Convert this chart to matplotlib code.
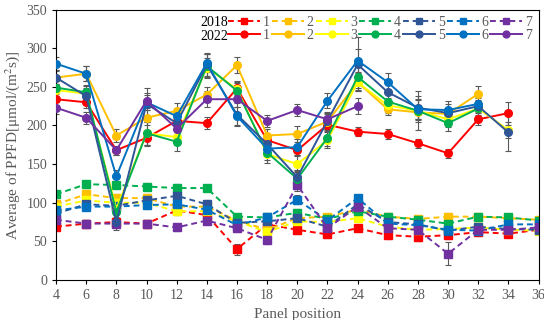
import numpy as np
import matplotlib.pyplot as plt

# 数据
x_pos = np.arange(4, 37, 2)
names = ['1', '2', '3', '4', '5', '6', '7']
colors = ['#FF0000', '#FFC000', '#FFFF00', '#00B050', '#2F5597', '#0070C0', '#7030A0']

# 2018 (dashed, squares)
y18_1 = [69, 73, 75, 73, 90, 84, 40, 72, 65, 59, 67, 58, 56, 58, 62, 60, 65]
y18_2 = [98, 111, 106, 106, 95, 95, 77, 65, 80, 82, 91, 82, 79, 82, 82, 80, 78]
y18_3 = [95, 103, 100, 100, 89, 89, 76, 62, 76, 75, 80, 69, 65, 66, 68, 65, 64]
y18_4 = [111, 124, 123, 121, 119, 119, 82, 81, 87, 79, 89, 82, 78, 73, 82, 81, 77]
y18_5 = [86, 98, 96, 103, 109, 98, 74, 76, 80, 69, 98, 75, 72, 64, 69, 66, 65]
y18_6 = [90, 95, 95, 97, 98, 91, 71, 81, 104, 77, 106, 73, 71, 65, 64, 72, 72]
y18_7 = [78, 73, 73, 73, 68, 77, 67, 52, 123, 67, 95, 67, 65, 34, 65, 65, 68]
e18_1 = [4, 5, 5, 5, 6, 5, 7, 4, 5, 5, 4, 5, 6, 5, 5, 4, 4]
e18_2 = [5, 5, 5, 5, 5, 5, 4, 4, 5, 4, 4, 5, 4, 5, 4, 4, 4]
e18_3 = [4, 5, 5, 5, 5, 5, 4, 4, 4, 4, 4, 4, 4, 4, 4, 4, 4]
e18_4 = [4, 4, 4, 5, 5, 4, 4, 4, 5, 4, 4, 4, 4, 5, 4, 4, 4]
e18_5 = [5, 5, 5, 5, 6, 6, 5, 4, 6, 4, 5, 4, 4, 4, 4, 4, 4]
e18_6 = [5, 5, 5, 5, 5, 5, 4, 5, 6, 4, 4, 4, 4, 4, 4, 4, 4]
e18_7 = [4, 5, 5, 5, 5, 5, 5, 5, 8, 5, 5, 5, 5, 15, 5, 4, 5]

# 2022 (solid, circles)
y22_1 = [234, 230, 168, 184, 206, 203, 248, 181, 168, 201, 192, 189, 177, 164, 208, 216]
y22_2 = [262, 267, 187, 210, 219, 240, 278, 187, 189, 205, 256, 221, 217, 215, 241]
y22_3 = [246, 241, 92, 190, 185, 275, 247, 163, 150, 181, 256, 226, 219, 208, 222, 194]
y22_4 = [249, 243, 88, 190, 179, 277, 245, 165, 131, 184, 263, 231, 219, 203, 222]
y22_5 = [262, 238, 75, 228, 203, 279, 214, 176, 133, 206, 279, 243, 223, 216, 225, 191]
y22_6 = [280, 267, 134, 230, 212, 281, 212, 170, 172, 232, 284, 256, 221, 220, 228]
y22_7 = [223, 210, 168, 232, 196, 234, 234, 206, 220, 208, 225]
e22_1 = [8, 8, 6, 10, 8, 8, 8, 7, 6, 8, 6, 6, 6, 6, 8, 15]
e22_2 = [10, 10, 8, 10, 10, 10, 10, 8, 10, 10, 10, 8, 10, 8, 10]
e22_3 = [8, 10, 10, 15, 10, 12, 10, 12, 10, 10, 12, 10, 25, 10, 10, 10]
e22_4 = [8, 10, 10, 15, 12, 15, 10, 10, 10, 10, 15, 10, 15, 10, 8]
e22_5 = [8, 10, 10, 20, 12, 15, 15, 10, 10, 10, 35, 12, 15, 12, 8, 24]
e22_6 = [8, 10, 8, 10, 10, 12, 12, 10, 10, 10, 15, 12, 12, 12, 8]
e22_7 = [8, 8, 6, 10, 10, 10, 10, 8, 8, 10, 10]

y18 = [y18_1, y18_2, y18_3, y18_4, y18_5, y18_6, y18_7]
e18 = [e18_1, e18_2, e18_3, e18_4, e18_5, e18_6, e18_7]
y22 = [y22_1, y22_2, y22_3, y22_4, y22_5, y22_6, y22_7]
e22 = [e22_1, e22_2, e22_3, e22_4, e22_5, e22_6, e22_7]

plt.rcParams['font.family'] = ['Liberation Serif', 'DejaVu Serif']
plt.rcParams['mathtext.fontset'] = 'stix'
grey = '#595959'

fig = plt.figure(figsize=(5.44, 3.2), dpi=100)
ax = fig.add_axes([0.103, 0.125, 0.887, 0.845])

# 误差线
for i in range(7):
    n = len(y18[i])
    ax.errorbar(x_pos[:n], y18[i], yerr=e18[i], fmt='none', ecolor=grey,
                elinewidth=0.8, capsize=2.5, capthick=0.8, zorder=1)
    n = len(y22[i])
    ax.errorbar(x_pos[:n], y22[i], yerr=e22[i], fmt='none', ecolor=grey,
                elinewidth=0.8, capsize=2.5, capthick=0.8, zorder=1)

h18 = []
h22 = []
for i in range(7):
    n = len(y18[i])
    l1, = ax.plot(x_pos[:n], y18[i], linestyle=(0, (3, 2)), color=colors[i],
                  marker='s', markersize=5.5, linewidth=1.4, zorder=2)
    h18.append(l1)
for i in range(7):
    n = len(y22[i])
    l2, = ax.plot(x_pos[:n], y22[i], linestyle='-', color=colors[i],
                  marker='o', markersize=5.5, linewidth=1.4, zorder=3)
    h22.append(l2)

ax.set_xlim(4, 36)
ax.set_ylim(0, 350)
ax.set_xticks(x_pos)
ax.set_yticks(np.arange(0, 351, 50))
ax.tick_params(labelsize=10, colors='black', labelcolor=grey, direction='out',
               length=3, width=0.8)
for s in ax.spines.values():
    s.set_linewidth(0.8)
    s.set_color('black')

ax.set_xlabel('Panel position', fontsize=11, color=grey, labelpad=4)
ax.set_ylabel(r'Average of PPFD[μmol/(m$^{2}$s)]', fontsize=11, color=grey, labelpad=3)

# 图例
handles = []
labels = []
for i in range(7):
    handles += [h18[i], h22[i]]
    labels += [names[i], names[i]]
leg = ax.legend(handles, labels, ncol=7, frameon=False, fontsize=10,
                loc='upper left', bbox_to_anchor=(228 / 544, 1 - 16 / 320),
                bbox_transform=fig.transFigure, borderpad=0, borderaxespad=0,
                handlelength=2.3, handletextpad=0.2, columnspacing=0.15,
                labelspacing=0.0, markerscale=0.9)
for t in leg.get_texts():
    t.set_color(grey)
fig.text(200 / 544, 1 - 23 / 320, '2018', fontsize=10, color='black', va='center')
fig.text(200 / 544, 1 - 36 / 320, '2022', fontsize=10, color='black', va='center')

fig.savefig('out.png', dpi=100)
